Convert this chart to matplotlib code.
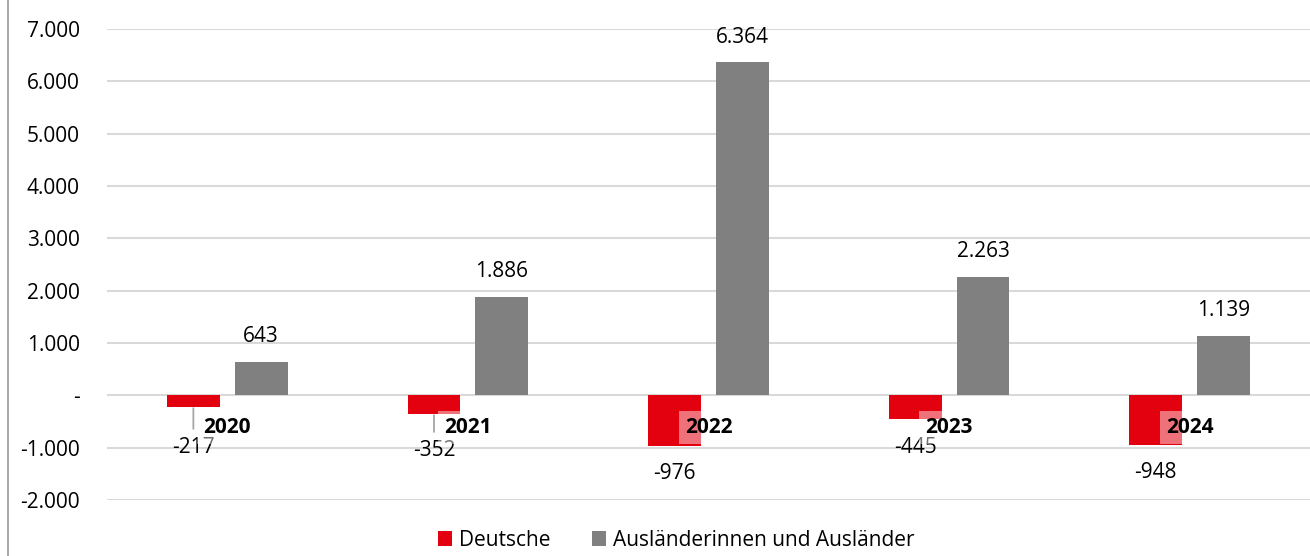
import matplotlib
matplotlib.use('Agg')
import matplotlib.pyplot as plt
from matplotlib.lines import Line2D
from matplotlib.patches import Patch
from matplotlib.ticker import FuncFormatter
import numpy as np

# data
years = ['2020', '2021', '2022', '2023', '2024']
deutsche = [-217, -352, -976, -445, -948]
auslaender = [643, 1886, 6364, 2263, 1139]
y_ticks = [-2000, -1000, 0, 1000, 2000, 3000, 4000, 5000, 6000, 7000]
series_names = ['Deutsche', 'Ausländerinnen und Ausländer']

# styling
RED = '#E3000F'
GRAY = '#808080'
GRID = '#D9D9D9'
neg_drop = [41, 37, 27, 29, 28]   # px below bar end for negative labels
leader = [True, True, False, False, False]

plt.rcParams['font.family'] = ['Open Sans', 'DejaVu Sans']
plt.rcParams['font.size'] = 15


def de_fmt(v, pos=None):
    if v == 0:
        return '-'
    return f'{v:,.0f}'.replace(',', '.')


W, H = 1310, 556
fig = plt.figure(figsize=(W / 100, H / 100), dpi=100)
ax = fig.add_axes([107 / W, (H - 500) / H, 1 - 107 / W, (500 - 29) / H])

x = np.arange(len(years))
w = 0.22
off = 0.141
ax.bar(x - off, deutsche, w, color=RED, zorder=2)
ax.bar(x + off, auslaender, w, color=GRAY, zorder=2)

ax.set_xlim(-0.5, len(years) - 0.5)
ax.set_ylim(-2000, 7000)
ax.set_yticks(y_ticks)
ax.yaxis.set_major_formatter(FuncFormatter(de_fmt))
ax.grid(axis='y', color=GRID, lw=1.5, zorder=0)
ax.set_xticks([])
for s in ax.spines.values():
    s.set_visible(False)
ax.tick_params(axis='y', length=0, pad=19.5, labelcolor='black')

px = 0.72  # points per pixel

# labels above gray bars
for xi, v in zip(x, auslaender):
    ax.annotate(de_fmt(v), (xi + off, v), xytext=(0, 25 * px),
                textcoords='offset points', ha='center', va='center')

# labels below red bars
for xi, v, d, ld in zip(x, deutsche, neg_drop, leader):
    if ld:
        ax.annotate(de_fmt(v), (xi - off, v), xytext=(0, -d * px),
                    textcoords='offset points', ha='center', va='center',
                    arrowprops=dict(arrowstyle='-', color='#A6A6A6', lw=1.3,
                                    shrinkA=4, shrinkB=1))
    else:
        ax.annotate(de_fmt(v), (xi - off, v), xytext=(0, -d * px),
                    textcoords='offset points', ha='center', va='center')

# category labels
for xi, yr in zip(x, years):
    ax.text(xi, -610, yr, ha='center', va='center', fontweight='bold', zorder=3,
            bbox=dict(boxstyle='square,pad=0.3', fc='white', ec='none', alpha=0.45))

# left border line
fig.add_artist(Line2D([8 / W, 8 / W], [0, 1], color='#999999', lw=1.2))

handles = [Patch(facecolor=RED), Patch(facecolor=GRAY)]
fig.legend(handles, series_names, loc='center', bbox_to_anchor=(0.516, 16 / H),
           ncol=2, frameon=False, handlelength=0.7, handleheight=0.7,
           handletextpad=0.3, columnspacing=2.0)

fig.savefig('out.png', dpi=100)
